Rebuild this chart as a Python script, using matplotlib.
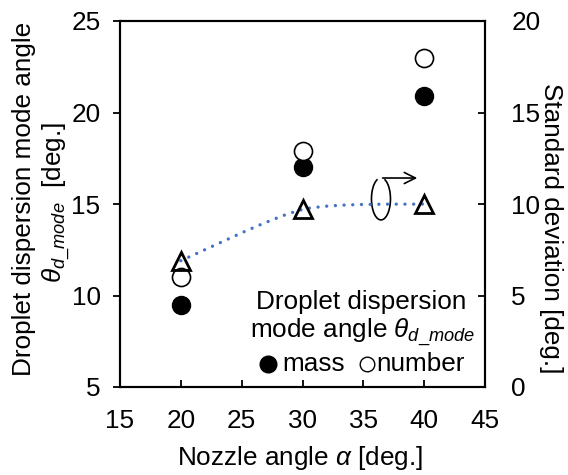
import matplotlib
matplotlib.use("Agg")
import matplotlib.pyplot as plt
from matplotlib.path import Path
from matplotlib.patches import PathPatch, Arc, FancyArrowPatch
import numpy as np

plt.rcParams['font.family'] = ['Liberation Sans', 'DejaVu Sans']
plt.rcParams['mathtext.fontset'] = 'custom'
plt.rcParams['mathtext.rm'] = 'Liberation Sans'
plt.rcParams['mathtext.it'] = 'Liberation Sans:italic'

# Data
nozzle_angle = [20, 30, 40]
mode_mass = [9.5, 17.0, 20.9]
mode_number = [11.0, 17.9, 23.0]
std_dev = [6.9, 9.7, 10.0]

x_ticks = [15, 20, 25, 30, 35, 40, 45]
y_left_ticks = [5, 10, 15, 20, 25]
y_right_ticks = [0, 5, 10, 15, 20]

FS = 18.8
W, H = 568, 475
fig = plt.figure(figsize=(W / 100, H / 100), dpi=100)
ax = fig.add_axes([120 / W, (H - 387) / H, 365 / W, 366 / H])
ax2 = ax.twinx()

ax.set_xlim(15, 45)
ax.set_ylim(5, 25)
ax2.set_ylim(0, 20)
ax.set_xticks(x_ticks)
ax.set_yticks(y_left_ticks)
ax2.set_yticks(y_right_ticks)

for sp in ax.spines.values():
    sp.set_linewidth(1.5)
for sp in ax2.spines.values():
    sp.set_linewidth(1.5)

ax.tick_params(axis='x', direction='in', length=5, width=1.3, labelsize=FS, pad=16, top=False)
ax.tick_params(axis='y', direction='out', length=5, width=1.3, labelsize=FS, pad=9)
ax2.tick_params(axis='y', direction='in', length=5, width=1.3, labelsize=FS, pad=19)

# smoothed dotted line (Excel-style smoothing) on secondary axis
px = np.array(nozzle_angle, dtype=float)
py = np.array(std_dev, dtype=float)
pts = np.column_stack([px, py])
n = len(pts)
verts = [tuple(pts[0])]
codes = [Path.MOVETO]
for i in range(n - 1):
    p_prev = pts[i - 1] if i > 0 else pts[i]
    p_next2 = pts[i + 2] if i + 2 < n else pts[i + 1]
    c1 = pts[i] + (pts[i + 1] - p_prev) / 8.0
    c2 = pts[i + 1] - (p_next2 - pts[i]) / 8.0
    verts += [tuple(c1), tuple(c2), tuple(pts[i + 1])]
    codes += [Path.CURVE4] * 3
patch = PathPatch(Path(verts, codes), fill=False, edgecolor='#4472C4', linewidth=2.4,
                  linestyle=(0, (0.01, 2.6)), capstyle='round', zorder=2)
ax2.add_patch(patch)

ax2.plot(nozzle_angle, std_dev, linestyle='none', marker='^', markersize=13,
         markerfacecolor='none', markeredgecolor='black', markeredgewidth=2, zorder=3)

ax.plot(nozzle_angle, mode_mass, linestyle='none', marker='o', markersize=13,
        markerfacecolor='black', markeredgecolor='black', zorder=3)
ax.plot(nozzle_angle, mode_number, linestyle='none', marker='o', markersize=13,
        markerfacecolor='white', markeredgecolor='black', markeredgewidth=1.2, zorder=3)

# rotation arrow annotation
arc = Arc((0.715, 0.514), 0.052, 0.115, angle=0, theta1=100, theta2=80,
          transform=ax.transAxes, color='black', linewidth=1.2)
ax.add_patch(arc)
arr = FancyArrowPatch((0.712, 0.571), (0.822, 0.571), transform=ax.transAxes,
                      arrowstyle='->,head_length=8,head_width=4', color='black',
                      linewidth=1.2, mutation_scale=1)
ax.add_patch(arr)

def ax_xy(xp, yp):
    return ((xp - 120) / 365, (387 - yp) / 366)

# legend-like text
ax.text(*ax_xy(361, 302), 'Droplet dispersion', transform=ax.transAxes,
        ha='center', va='center', fontsize=FS)
ax.text(*ax_xy(363, 333), r'mode angle $\theta_{d\_mode}$', transform=ax.transAxes,
        ha='center', va='center', fontsize=FS)
ax.plot(*ax_xy(268, 364), transform=ax.transAxes, marker='o', markersize=12,
        markerfacecolor='black', markeredgecolor='black', clip_on=False)
ax.text(*ax_xy(282, 364), 'mass', transform=ax.transAxes, ha='left', va='center', fontsize=FS)
ax.plot(*ax_xy(367, 364), transform=ax.transAxes, marker='o', markersize=10.5,
        markerfacecolor='white', markeredgecolor='black', markeredgewidth=1.0, clip_on=False)
ax.text(*ax_xy(376, 364), 'number', transform=ax.transAxes, ha='left', va='center', fontsize=FS)

# axis labels
fig.text(300 / W, 1 - 458 / H, r'Nozzle angle $\alpha$ [deg.]', ha='center', va='center', fontsize=FS)
fig.text(24 / W, 1 - 199 / H, 'Droplet dispersion mode angle', ha='center', va='center',
         rotation=90, fontsize=FS)
fig.text(57 / W, 1 - 202 / H, r'$\theta_{d\_mode}$  [deg.]', ha='center', va='center',
         rotation=90, fontsize=FS)
fig.text(551 / W, 1 - 228 / H, 'Standard deviation [deg.]', ha='center', va='center',
         rotation=270, fontsize=FS)

fig.savefig('out.png', dpi=100)
